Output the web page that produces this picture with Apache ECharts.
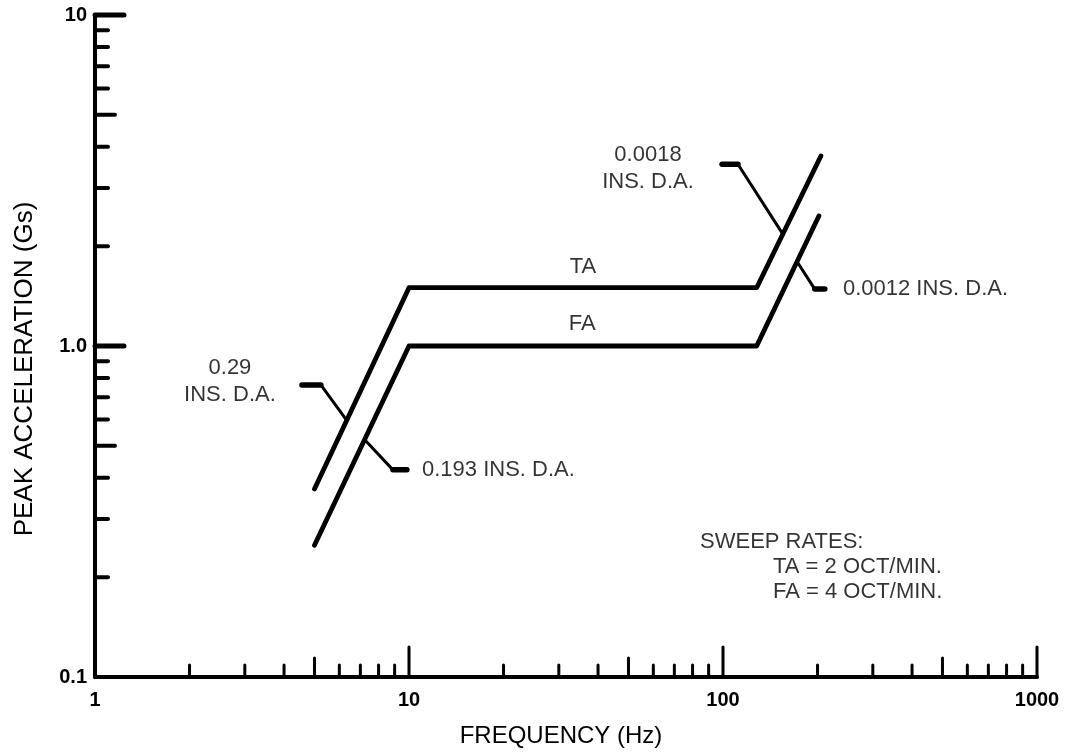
<!DOCTYPE html>
<html><head><meta charset="utf-8">
<script src="https://cdn.jsdelivr.net/npm/echarts@6/dist/echarts.min.js"></script>
<style>html,body{margin:0;padding:0;background:#fff}#chart{width:1065px;height:753px}</style>
</head><body><div id="chart"></div>
<script>
// ---- data ----
const xTickLabels = ['1', '10', '100', '1000'];
const yTickLabels = ['0.1', '1.0', '10'];
const xTicks = [2,3,4,5,6,7,8,9,10,20,30,40,50,60,70,80,90,100,200,300,400,500,600,700,800,900,1000];
const yTicks = [0.2,0.3,0.4,0.5,0.6,0.7,0.8,0.9,1,2,3,4,5,6,7,8,9,10];
const taFreq = [5, 10, 128, 205];
const taAcc = [0.37, 1.5, 1.5, 3.75];
const faFreq = [5, 10, 128, 202];
const faAcc = [0.25, 1.0, 1.0, 2.47];
const leaderStubs = [
  [[4.56, 0.763], [5.24, 0.763]],
  [[8.89, 0.4225], [9.85, 0.4225]],
  [[99.3, 3.54], [111.6, 3.54]],
  [[196, 1.486], [211, 1.486]]
];
const leaderDiagonals = [
  [[5.24, 0.763], [6.3, 0.6]],
  [[7.24, 0.52], [8.89, 0.4225]],
  [[111.6, 3.54], [154, 2.2]],
  [[172, 1.8], [196, 1.486]]
];
const annotationTexts = ['0.29\nINS. D.A.', '0.193 INS. D.A.', '0.0018\nINS. D.A.', '0.0012 INS. D.A.', 'TA', 'FA', 'SWEEP RATES:', 'TA = 2 OCT/MIN.', 'FA = 4 OCT/MIN.'];
const annotationFreq = [2.69, 11.0, 57.7, 241, 35.8, 35.6, 84.5, 144.3, 144.3];
const annotationAcc = [0.784, 0.4225, 3.43, 1.486, 1.73, 1.165, 0.2564, 0.2154, 0.181];
const xTitle = 'FREQUENCY (Hz)';
const yTitle = 'PEAK ACCELERATION (Gs)';

// ---- chart ----
const annotationAlign = ['center', 'left', 'center', 'left', 'center', 'center', 'left', 'left', 'left'];
const FONT = "'Liberation Sans', Arial, sans-serif";

function mant(v) {
  const e = Math.floor(Math.log10(v) + 1e-9);
  return Math.round(v / Math.pow(10, e));
}

const chart = echarts.init(document.getElementById('chart'), null, {renderer: 'canvas'});

const series = [];
series.push({
  type: 'line', data: taFreq.map((f, i) => [f, taAcc[i]]), showSymbol: false, silent: true,
  lineStyle: {color: '#000', width: 4.8, cap: 'round', join: 'round'}, animation: false
});
series.push({
  type: 'line', data: faFreq.map((f, i) => [f, faAcc[i]]), showSymbol: false, silent: true,
  lineStyle: {color: '#000', width: 4.8, cap: 'round', join: 'round'}, animation: false
});
leaderStubs.forEach(seg => series.push({
  type: 'line', data: seg, showSymbol: false, silent: true,
  lineStyle: {color: '#000', width: 5.5, cap: 'round'}, animation: false
}));
leaderDiagonals.forEach(seg => series.push({
  type: 'line', data: seg, showSymbol: false, silent: true,
  lineStyle: {color: '#000', width: 3, cap: 'round'}, animation: false
}));
// tick marks along axes
series.push({
  type: 'custom', clip: false, silent: true, animation: false,
  data: xTicks.map(v => [v, 0.1]),
  renderItem: function (params, api) {
    const v = api.value(0);
    const p = api.coord([v, api.value(1)]);
    const m = mant(v);
    const len = m === 1 ? 30 : (m === 5 ? 19 : 12);
    return {type: 'line', shape: {x1: p[0], y1: p[1], x2: p[0], y2: p[1] - len},
      style: {stroke: '#000', lineWidth: 3, lineCap: 'round'}};
  }
});
series.push({
  type: 'custom', clip: false, silent: true, animation: false,
  data: yTicks.map(v => [1, v]),
  renderItem: function (params, api) {
    const v = api.value(1);
    const p = api.coord([api.value(0), v]);
    const m = mant(v);
    const len = m === 1 ? 29 : (m === 5 ? 20 : 13);
    return {type: 'line', shape: {x1: p[0], y1: p[1], x2: p[0] + len, y2: p[1]},
      style: {stroke: '#000', lineWidth: m === 1 ? 5 : 4, lineCap: 'round'}};
  }
});
// annotations
series.push({
  type: 'scatter', symbolSize: 0, silent: true, animation: false,
  data: annotationTexts.map((t, i) => ({
    value: [annotationFreq[i], annotationAcc[i]],
    label: {
      show: true, position: 'inside', formatter: t, align: annotationAlign[i], verticalAlign: 'middle',
      color: '#000', fontFamily: FONT, fontSize: 22, lineHeight: 27
    }
  }))
});

chart.setOption({
  backgroundColor: '#fff',
  animation: false,
  grid: {left: 95, right: 28, top: 15, bottom: 75, containLabel: false},
  xAxis: {
    type: 'log', logBase: 10, min: 1, max: 1000,
    name: xTitle, nameLocation: 'middle', nameGap: 47,
    nameTextStyle: {fontFamily: FONT, fontSize: 24, color: '#000', padding: [0, 10, 0, 0]},
    axisLine: {show: true, lineStyle: {color: '#000', width: 4}},
    axisTick: {show: false}, splitLine: {show: false}, minorTick: {show: false},
    axisLabel: {
      margin: 13, color: '#000', fontFamily: FONT, fontWeight: 'bold', fontSize: 20,
      formatter: v => xTickLabels[Math.round(Math.log10(v))]
    }
  },
  yAxis: {
    type: 'log', logBase: 10, min: 0.1, max: 10,
    name: yTitle, nameLocation: 'middle', nameGap: 57,
    nameTextStyle: {fontFamily: FONT, fontSize: 26, color: '#000', padding: [0, 46, 0, 0]},
    axisLine: {show: true, lineStyle: {color: '#000', width: 4}},
    axisTick: {show: false}, splitLine: {show: false}, minorTick: {show: false},
    axisLabel: {
      margin: 8, color: '#000', fontFamily: FONT, fontWeight: 'bold', fontSize: 20,
      formatter: v => yTickLabels[Math.round(Math.log10(v)) + 1]
    }
  },
  series: series
});
</script>
</body></html>
